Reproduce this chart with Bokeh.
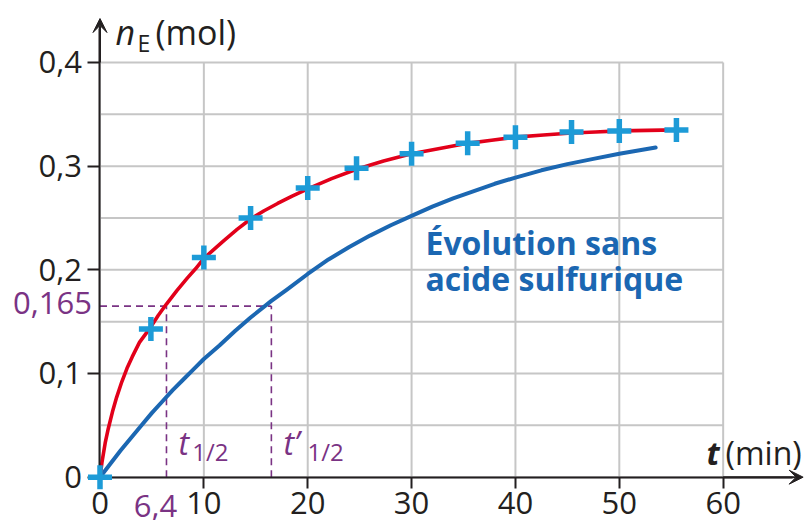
from bokeh.plotting import figure
from bokeh.models import Label, Arrow, VeeHead, FixedTicker, Range1d
from bokeh.embed import file_html
from bokeh.resources import INLINE

FONT = "Open Sans"
INK = "#231f20"
PURPLE = "#7a3384"
RED = "#e2001a"
BLUE = "#1b67b2"
CYAN = "#1d9bd7"
GRID = "#c6c6c6"

# measured points (crosses)
t_meas = [0, 4.9, 10, 14.5, 20, 24.7, 30, 35.4, 40, 45.4, 50, 55.5]
n_meas = [0, 0.143, 0.212, 0.250, 0.279, 0.298, 0.312, 0.322, 0.328, 0.333, 0.334, 0.335]

# red curve (with sulfuric acid)
t_fit = [0, 0.2, 0.5, 0.8, 1.2, 1.6, 2.1, 2.6, 3.1, 3.8, 4.9, 5.6, 6.4, 7.4, 8.4, 9.2, 10,
         11, 11.9, 13.2, 14.5, 15.8, 17.1, 18.5, 20, 22.3, 24.7, 27.3, 30, 32.7, 35.4,
         37.7, 40, 42.7, 45.4, 47.7, 50, 52.7, 55.5]
n_fit = [0, 0.015, 0.033, 0.047, 0.063, 0.077, 0.092, 0.105, 0.116, 0.130, 0.145, 0.156, 0.167,
         0.180, 0.192, 0.201, 0.211, 0.220, 0.228, 0.239, 0.249, 0.257, 0.264, 0.271, 0.278,
         0.288, 0.297, 0.305, 0.312, 0.317, 0.322, 0.325, 0.328, 0.330, 0.332, 0.333, 0.334,
         0.3345, 0.335]

# blue curve (without sulfuric acid)
t_nosulf = [0, 1, 2, 3, 4, 5, 6, 7, 8, 9, 10, 11.5, 13, 14.5, 16.5, 18, 20, 22, 24, 26, 28,
            30, 32, 34, 36, 38, 40, 42.5, 45, 47.5, 50, 53.5]
n_nosulf = [0, 0.013, 0.026, 0.038, 0.050, 0.062, 0.073, 0.084, 0.094, 0.104, 0.114, 0.127,
            0.141, 0.154, 0.170, 0.181, 0.196, 0.210, 0.222, 0.233, 0.243, 0.252, 0.261,
            0.269, 0.276, 0.283, 0.289, 0.296, 0.302, 0.307, 0.312, 0.318]

x_ticks = [0, 10, 20, 30, 40, 50, 60]
y_ticks = [0, 0.1, 0.2, 0.3, 0.4]
y_tick_labels = ["0", "0,1", "0,2", "0,3", "0,4"]
x_grid = [0, 10, 20, 30, 40, 50, 60]
y_grid = [0, 0.05, 0.1, 0.15, 0.2, 0.25, 0.3, 0.35, 0.4]

n_half = 0.165
t_half = 6.4
t_half_prime = 16.5

# frame covers the whole canvas so that nothing is clipped
X_START, X_END = -9.58, 68.12
Y_START, Y_END = -0.0418, 0.4598
X_TIP, Y_TIP = 67.7, 0.4424

p = figure(width=807, height=520,
           x_range=Range1d(X_START, X_END), y_range=Range1d(Y_START, Y_END),
           output_backend="svg", toolbar_location=None,
           min_border_left=0, min_border_right=0, min_border_top=0, min_border_bottom=0)
p.outline_line_color = None
p.background_fill_color = "white"
p.border_fill_color = "white"
p.xgrid.visible = False
p.ygrid.visible = False

# grid drawn over 0..60 x 0..0.4
p.segment(x0=x_grid, y0=[y_grid[0]] * len(x_grid), x1=x_grid, y1=[y_grid[-1]] * len(x_grid),
          line_color=GRID, line_width=2, level="underlay")
p.segment(x0=[x_grid[0]] * len(y_grid), y0=y_grid, x1=[x_grid[-1]] * len(y_grid), y1=y_grid,
          line_color=GRID, line_width=2, level="underlay")

# axes
xa = p.xaxis[0]
xa.fixed_location = 0
xa.bounds = (0, X_TIP - 1)
xa.ticker = FixedTicker(ticks=x_ticks)
xa.minor_tick_line_color = None
xa.major_tick_in = 0
xa.major_tick_out = 11
xa.major_tick_line_width = 2
xa.major_tick_line_color = INK
xa.axis_line_width = 2
xa.axis_line_color = INK
xa.major_label_text_font = FONT
xa.major_label_text_font_size = "31px"
xa.major_label_text_color = INK
xa.major_label_standoff = 4

ya = p.yaxis[0]
ya.fixed_location = 0
ya.bounds = (0, Y_TIP - 0.01)
ya.ticker = FixedTicker(ticks=y_ticks)
ya.major_label_overrides = dict(zip(y_ticks, y_tick_labels))
ya.minor_tick_line_color = None
ya.major_tick_in = 0
ya.major_tick_out = 12
ya.major_tick_line_width = 2
ya.major_tick_line_color = INK
ya.axis_line_width = 2
ya.axis_line_color = INK
ya.major_label_text_font = FONT
ya.major_label_text_font_size = "31px"
ya.major_label_text_color = INK
ya.major_label_standoff = 6

p.add_layout(Arrow(end=VeeHead(size=14, fill_color=INK, line_color=INK, line_width=1),
                   x_start=0, y_start=0.40, x_end=0, y_end=Y_TIP, line_color=INK, line_width=2))
p.add_layout(Arrow(end=VeeHead(size=14, fill_color=INK, line_color=INK, line_width=1),
                   x_start=60, y_start=0, x_end=X_TIP, y_end=0, line_color=INK, line_width=2))

# half-time construction
dash = "7 5"
p.line([0, t_half_prime], [n_half, n_half], line_color=PURPLE, line_width=1.6, line_dash=dash)
p.line([t_half, t_half], [0, n_half], line_color=PURPLE, line_width=1.6, line_dash=dash)
p.line([t_half_prime, t_half_prime], [0, n_half], line_color=PURPLE, line_width=1.6, line_dash=dash)

# curves
p.line(t_nosulf, n_nosulf, line_color=BLUE, line_width=4, line_cap="round", line_join="round")
p.line(t_fit, n_fit, line_color=RED, line_width=3.6, line_cap="round", line_join="round")
pts = p.scatter(t_meas, n_meas, marker="cross", size=24, line_color=CYAN, line_width=5.5)
pts.level = "overlay"

RAISE = 10  # compensates the alphabetic-baseline placement of labels


def lab(x, y, text, size, color=INK, style="normal", align="left", baseline="alphabetic",
        xoff=0, yoff=0):
    if baseline == "alphabetic":
        yoff += RAISE
    p.add_layout(Label(x=x, y=y, text=text, text_font=FONT, text_font_size=size,
                       text_color=color, text_font_style=style, text_align=align,
                       text_baseline=baseline, x_offset=xoff, y_offset=yoff))


# axis titles
lab(1.49, 0.4196, "n", "34px", style="italic")
lab(3.61, 0.4087, "E", "23px")
lab(5.34, 0.4196, "(mol)", "34px")
lab(58.4, 0.0145, "t", "32px", style="bold italic")
lab(60.23, 0.0145, "(min)", "32px")

# purple annotations
lab(0, n_half, "0,165", "31px", color=PURPLE, align="right", baseline="middle", xoff=-8, yoff=3)
lab(t_half, 0, "6,4", "31px", color=PURPLE, align="center", xoff=-11, yoff=-39)
lab(7.56, 0.0241, "t", "32px", color=PURPLE, style="italic")
lab(8.88, 0.0151, "1/2", "24px", color=PURPLE)
lab(17.67, 0.0241, "t\u2019", "32px", color=PURPLE, style="italic")
lab(19.98, 0.0151, "1/2", "24px", color=PURPLE)

# curve label
lab(31.34, 0.2167, "\u00c9volution sans", "32px", color=BLUE, style="bold")
lab(31.34, 0.1819, "acide sulfurique", "32px", color=BLUE, style="bold")

open("out.html", "w").write(file_html(p, INLINE))
